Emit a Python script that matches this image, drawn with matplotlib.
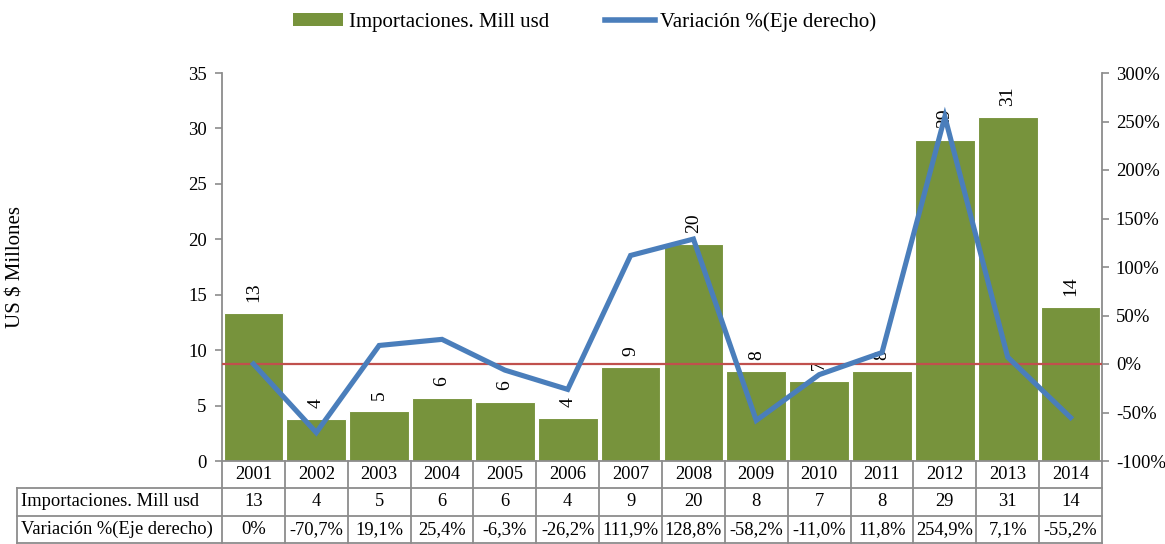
import matplotlib
matplotlib.use("Agg")
import matplotlib.pyplot as plt
import matplotlib.transforms as mtransforms
from matplotlib.lines import Line2D
from matplotlib.patches import Patch
import numpy as np

years = ["2001", "2002", "2003", "2004", "2005", "2006", "2007",
         "2008", "2009", "2010", "2011", "2012", "2013", "2014"]
imports = [13.34, 3.77, 4.52, 5.72, 5.36, 3.91, 8.5,
           19.6, 8.1, 7.2, 8.1, 29.0, 31.0, 13.9]
import_labels = ["13", "4", "5", "6", "6", "4", "9",
                 "20", "8", "7", "8", "29", "31", "14"]
variation = [0.0, -70.7, 19.1, 25.4, -6.3, -26.2, 111.9,
             128.8, -58.2, -11.0, 11.8, 254.9, 7.1, -55.2]
variation_labels = ["0%", "-70,7%", "19,1%", "25,4%", "-6,3%", "-26,2%", "111,9%",
                    "128,8%", "-58,2%", "-11,0%", "11,8%", "254,9%", "7,1%", "-55,2%"]
series_names = ["Importaciones. Mill usd", "Variación %(Eje derecho)"]
left_ticks = [0, 5, 10, 15, 20, 25, 30, 35]
right_ticks = [-100, -50, 0, 50, 100, 150, 200, 250, 300]

plt.rcParams['font.family'] = ['Liberation Serif', 'DejaVu Serif']

W, H = 1165, 544
fig = plt.figure(figsize=(W / 100, H / 100), dpi=100)
ax_l, ax_r, ax_t, ax_b = 222, 1102, 73, 461
ax = fig.add_axes([ax_l / W, 1 - ax_b / H, (ax_r - ax_l) / W, (ax_b - ax_t) / H])

bar_color = "#77933C"
line_color = "#4A7EBB"
gray = "#8C8C8C"
fs = 13.5
tfs = 13.3

x = np.arange(len(years))
ax.bar(x, imports, width=0.95, color=bar_color, edgecolor="white", linewidth=0.8, zorder=2)
ax.set_xlim(-0.5, len(years) - 0.5)
ax.set_ylim(0, 35)
ax.set_yticks(left_ticks)
ax.set_yticklabels([str(t) for t in left_ticks], fontsize=fs)
ax.set_xticks([])
for s in ["top", "right"]:
    ax.spines[s].set_visible(False)
ax.spines["left"].set_color(gray)
ax.spines["bottom"].set_color(gray)
ax.spines["left"].set_linewidth(1.3)
ax.spines["bottom"].set_linewidth(1.3)
ax.tick_params(axis="y", colors=gray, labelcolor="black", length=5, width=1.2, pad=6)

for xi, v, lab in zip(x, imports, import_labels):
    ax.annotate(lab, (xi, v), xytext=(0, 8), textcoords="offset points",
                rotation=90, ha="center", va="bottom", fontsize=14, zorder=5)

ax2 = ax.twinx()
ax2.set_ylim(-100, 300)
ax2.set_yticks(right_ticks)
ax2.set_yticklabels([f"{t}%" for t in right_ticks], fontsize=fs)
for s in ["top", "left", "bottom"]:
    ax2.spines[s].set_visible(False)
ax2.spines["right"].set_color(gray)
ax2.spines["right"].set_linewidth(1.3)
ax2.tick_params(axis="y", colors=gray, labelcolor="black", length=5, width=1.2, pad=5)
ax2.axhline(0, color="#C0504D", linewidth=1.6, zorder=3)
ax2.plot(x, variation, color=line_color, linewidth=3.7, solid_joinstyle="miter", zorder=4)

# Data table below the axes
trans = mtransforms.blended_transform_factory(ax.transData, ax.transAxes)
ah = ax_b - ax_t
def ay(px):  # pixel row -> axes fraction
    return (ax_b - px) / ah
rows_px = [461, 488, 516, 543]
label_left = -0.5 - (ax_l - 17) / ((ax_r - ax_l) / len(years))
lk = dict(color=gray, linewidth=1.3, clip_on=False, transform=trans)
for r in rows_px[1:]:
    ax.add_line(Line2D([label_left, len(years) - 0.5], [ay(r), ay(r)], **lk))
for b in np.arange(-0.5, len(years) + 0.5, 1.0):
    ax.add_line(Line2D([b, b], [ay(rows_px[0]), ay(rows_px[-1])], **lk))
ax.add_line(Line2D([label_left, label_left], [ay(rows_px[1]), ay(rows_px[-1])], **lk))

row_texts = [years, import_labels, variation_labels]
for ri, texts in enumerate(row_texts):
    yc = ay((rows_px[ri] + rows_px[ri + 1]) / 2)
    for xi, t in zip(x, texts):
        ax.text(xi, yc, t, transform=trans, ha="center", va="center", fontsize=tfs, clip_on=False)
for ri, name in enumerate(series_names):
    yc = ay((rows_px[ri + 1] + rows_px[ri + 2]) / 2)
    ax.text(label_left + 0.07, yc, name, transform=trans, ha="left", va="center",
            fontsize=tfs, clip_on=False)

fig.text(16 / W, 1 - 267 / H, "US $ Millones", rotation=90, ha="center", va="center", fontsize=15)

handles = [Patch(facecolor=bar_color, edgecolor="none"),
           Line2D([0], [0], color=line_color, linewidth=4)]
fig.legend(handles, series_names, loc="center", bbox_to_anchor=(585 / W, 1 - 22 / H),
           ncol=2, frameon=False, fontsize=15, handlelength=2.4, handleheight=0.55,
           handletextpad=0.25, columnspacing=2.7)

fig.savefig("out.png", dpi=100)
